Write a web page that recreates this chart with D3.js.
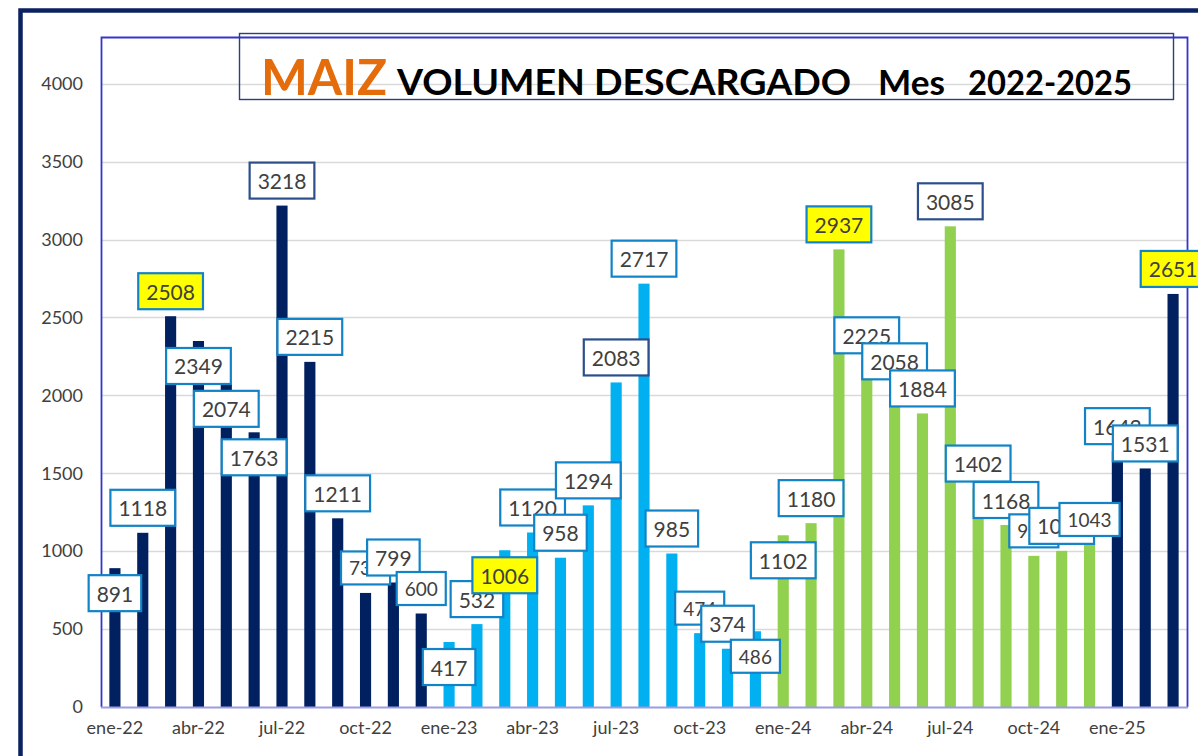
<!DOCTYPE html>
<html>
<head>
<meta charset="utf-8">
<script src="https://cdn.jsdelivr.net/npm/d3@7/dist/d3.min.js"></script>
<style>
  html, body { margin: 0; padding: 0; background: #ffffff; }
  svg { display: block; }
</style>
</head>
<body>
<svg id="chart" width="1198" height="756"></svg>
<script>
// ---------- DATA ----------
const months = [
  'ene-22','feb-22','mar-22','abr-22','may-22','jun-22','jul-22','ago-22','sep-22','oct-22','nov-22','dic-22',
  'ene-23','feb-23','mar-23','abr-23','may-23','jun-23','jul-23','ago-23','sep-23','oct-23','nov-23','dic-23',
  'ene-24','feb-24','mar-24','abr-24','may-24','jun-24','jul-24','ago-24','sep-24','oct-24','nov-24','dic-24',
  'ene-25','feb-25','mar-25'
];
const values2022 = [891, 1118, 2508, 2349, 2074, 1763, 3218, 2215, 1211, 732, 799, 600];
const values2023 = [417, 532, 1006, 1120, 958, 1294, 2083, 2717, 985, 474, 374, 486];
const values2024 = [1102, 1180, 2937, 2225, 2058, 1884, 3085, 1402, 1168, 970, 1002, 1043];
const values2025 = [1642, 1531, 2651];
const yTickValues = [0, 500, 1000, 1500, 2000, 2500, 3000, 3500, 4000];
const xTickLabels = ['ene-22','abr-22','jul-22','oct-22','ene-23','abr-23','jul-23','oct-23','ene-24','abr-24','jul-24','oct-24','ene-25'];

// label annotations
const labelsBelow = ['ene-22','abr-22','may-22','jun-22','ene-23','mar-23','dic-23','ene-24'];
const labelsHighlighted = ['mar-22','mar-23','mar-24','mar-25'];
const labelsDarkBorder = ['jul-22','jul-23','jul-24'];
const labelsSmall = ['oct-22','dic-22','oct-23','dic-23','oct-24','dic-24'];

// ---------- STYLES ----------
const yearColors = { '22': '#002060', '23': '#00B0F0', '24': '#92D050', '25': '#002060' };
const FONT = 'Lato, "Open Sans", "Liberation Sans", sans-serif';

const allValues = [...values2022, ...values2023, ...values2024, ...values2025];
const data = months.map((m, i) => ({ month: m, value: allValues[i], year: m.slice(-2) }));

const svg = d3.select('#chart');

// outer frame
svg.append('rect')
  .attr('x', 20.5).attr('y', 10.5)
  .attr('width', 1300).attr('height', 900)
  .attr('fill', 'none')
  .attr('stroke', '#0B2160')
  .attr('stroke-width', 4.5);

const plot = { left: 101, right: 1187, top: 37, bottom: 707 };

const x = d3.scaleBand()
  .domain(months)
  .range([plot.left, plot.right])
  .paddingInner(0.6)
  .paddingOuter(0.3);

const y = d3.scaleLinear()
  .domain([0, 4300])
  .range([plot.bottom, plot.top]);

// gridlines
svg.append('g')
  .selectAll('line')
  .data(yTickValues.filter(d => d > 0))
  .join('line')
  .attr('x1', plot.left).attr('x2', plot.right)
  .attr('y1', d => Math.round(y(d)) + 0.5).attr('y2', d => Math.round(y(d)) + 0.5)
  .attr('stroke', '#D9D9D9')
  .attr('stroke-width', 1.5);

// plot area border (left, top, right)
svg.append('path')
  .attr('d', `M${plot.left + 0.5},${plot.bottom} V${plot.top + 0.5} H${plot.right + 0.5} V${plot.bottom}`)
  .attr('fill', 'none')
  .attr('stroke', '#3535CC')
  .attr('stroke-width', 1.8);

// y axis
const yAxis = svg.append('g')
  .attr('transform', `translate(${plot.left - 18},0)`)
  .call(d3.axisLeft(y).tickValues(yTickValues).tickSize(0).tickPadding(0).tickFormat(d3.format('d')));
yAxis.select('.domain').remove();
yAxis.selectAll('text')
  .attr('font-family', FONT)
  .attr('font-size', 18)
  .attr('fill', '#404040');

// bars
svg.append('g')
  .selectAll('rect')
  .data(data)
  .join('rect')
  .attr('x', d => x(d.month))
  .attr('y', d => y(d.value))
  .attr('width', x.bandwidth())
  .attr('height', d => y(0) - y(d.value))
  .attr('fill', d => yearColors[d.year]);

// x axis line
svg.append('line')
  .attr('x1', plot.left).attr('x2', plot.right + 1)
  .attr('y1', plot.bottom + 0.5).attr('y2', plot.bottom + 0.5)
  .attr('stroke', '#9C9CE0')
  .attr('stroke-width', 1.8);

// x axis labels
const xAxis = svg.append('g')
  .attr('transform', `translate(0,${plot.bottom + 14})`)
  .call(d3.axisBottom(x).tickValues(xTickLabels).tickSize(0).tickPadding(0));
xAxis.select('.domain').remove();
xAxis.selectAll('text')
  .attr('font-family', FONT)
  .attr('font-size', 18)
  .attr('fill', '#404040');

// data labels
const lbl = svg.append('g');
data.forEach(d => {
  const small = labelsSmall.includes(d.month);
  const fs = small ? 19 : 21;
  const h = small ? 33 : 36;
  const below = labelsBelow.includes(d.month);
  const cx = x(d.month) + x.bandwidth() / 2;
  const cy = y(d.value) + (below ? 25 : -25);
  const g = lbl.append('g');
  const rect = g.append('rect');
  const t = g.append('text')
    .attr('x', cx)
    .attr('y', cy)
    .attr('text-anchor', 'middle')
    .attr('dominant-baseline', 'central')
    .attr('font-family', FONT)
    .attr('font-size', fs)
    .attr('fill', '#404040')
    .text(d3.format('d')(d.value));
  const w = t.node().getComputedTextLength() + 16;
  rect.attr('x', cx - w / 2)
    .attr('y', cy - h / 2)
    .attr('width', w)
    .attr('height', h)
    .attr('fill', labelsHighlighted.includes(d.month) ? '#FFFF00' : '#FFFFFF')
    .attr('stroke', labelsDarkBorder.includes(d.month) ? '#2C4F8C' : '#1183C6')
    .attr('stroke-width', 2.2);
});

// title box
svg.append('rect')
  .attr('x', 239.5).attr('y', 33.5)
  .attr('width', 934).attr('height', 66)
  .attr('fill', 'none')
  .attr('stroke', '#2B3F7A')
  .attr('stroke-width', 1.4);

const title = svg.append('g').attr('font-family', FONT).attr('font-weight', 700);
title.append('text')
  .attr('x', 261).attr('y', 95)
  .attr('font-size', 50)
  .attr('fill', '#E46C0A')
  .attr('textLength', 126).attr('lengthAdjust', 'spacingAndGlyphs')
  .text('MAIZ');
title.append('text')
  .attr('x', 397).attr('y', 95)
  .attr('font-size', 36)
  .attr('fill', '#000000')
  .attr('textLength', 454).attr('lengthAdjust', 'spacingAndGlyphs')
  .text('VOLUMEN DESCARGADO');
title.append('text')
  .attr('x', 878).attr('y', 95)
  .attr('font-size', 34)
  .attr('fill', '#000000')
  .attr('textLength', 67).attr('lengthAdjust', 'spacingAndGlyphs')
  .text('Mes');
title.append('text')
  .attr('x', 968).attr('y', 95)
  .attr('font-size', 34)
  .attr('fill', '#000000')
  .attr('textLength', 164).attr('lengthAdjust', 'spacingAndGlyphs')
  .text('2022-2025');
</script>
</body>
</html>
